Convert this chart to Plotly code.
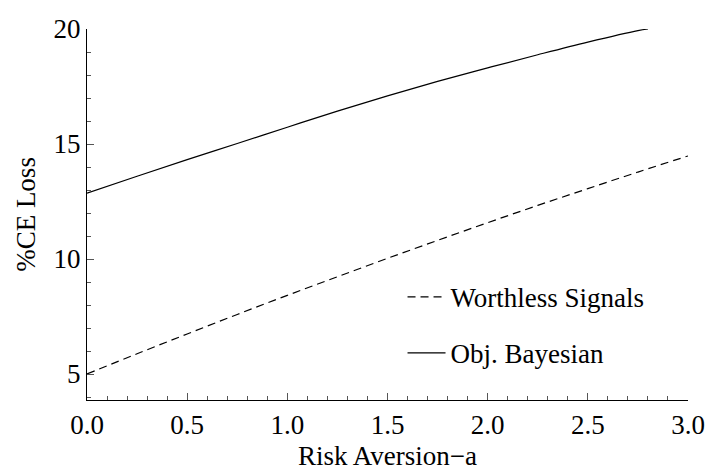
import plotly.graph_objects as go

# Data
x_worthless = [0.0, 0.25, 0.5, 0.75, 1.0, 1.25, 1.5, 1.75, 2.0, 2.25, 2.5, 2.75, 3.0]
y_worthless = [5.00, 5.88, 6.74, 7.59, 8.42, 9.23, 10.03, 10.81, 11.58, 12.33, 13.06, 13.78, 14.48]

x_bayes = [0.0, 0.25, 0.5, 0.75, 1.0, 1.25, 1.5, 1.75, 2.0, 2.25, 2.5, 2.75, 2.8]
y_bayes = [12.86, 13.60, 14.32, 15.02, 15.73, 16.43, 17.09, 17.72, 18.31, 18.88, 19.43, 19.93, 20.0]

x_ticks = [0.0, 0.5, 1.0, 1.5, 2.0, 2.5, 3.0]
y_ticks = [5, 10, 15, 20]

FONT = "Liberation Serif"
FS = 27

fig = go.Figure()
fig.add_trace(go.Scatter(
    x=x_worthless, y=y_worthless, mode="lines", name="Worthless Signals",
    line=dict(color="black", width=1.2, dash="8px,5px", shape="spline"),
    legendgroup="a",
))
fig.add_trace(go.Scatter(
    x=x_bayes, y=y_bayes, mode="lines", name="Obj. Bayesian",
    line=dict(color="black", width=1.2, shape="spline"),
    legendgroup="b",
))

axis_common = dict(
    showline=True, linecolor="black", linewidth=1.2,
    ticks="inside", ticklen=7, tickwidth=1, tickcolor="#555",
    showgrid=False, zeroline=False, mirror=False, automargin=False,
    tickfont=dict(family=FONT, size=FS, color="black"),
)

fig.update_xaxes(
    range=[0, 3], tickvals=x_ticks, tickformat=".1f",
    minor=dict(dtick=0.1, tick0=0, ticks="inside", ticklen=4, tickcolor="#555", showgrid=False),
    title=dict(text="Risk Aversion\u2212a", font=dict(family=FONT, size=FS, color="black"), standoff=12),
    **axis_common,
)
fig.update_yaxes(
    range=[3.87, 20], tickvals=y_ticks,
    minor=dict(dtick=1, tick0=0, ticks="inside", ticklen=4, tickcolor="#555", showgrid=False),
    title=dict(text="%CE Loss", font=dict(family=FONT, size=FS, color="black"), standoff=10),
    **axis_common,
)

fig.update_layout(
    width=707, height=471,
    margin=dict(l=87, r=19, t=29, b=71),
    paper_bgcolor="white", plot_bgcolor="white",
    font=dict(family=FONT, size=FS, color="black"),
    showlegend=True,
    legend=dict(
        x=0.525, y=0.343, xanchor="left", yanchor="top",
        bgcolor="rgba(0,0,0,0)", tracegroupgap=18, itemwidth=38,
        font=dict(family=FONT, size=FS, color="black"),
    ),
)

fig.write_html("out.html")
